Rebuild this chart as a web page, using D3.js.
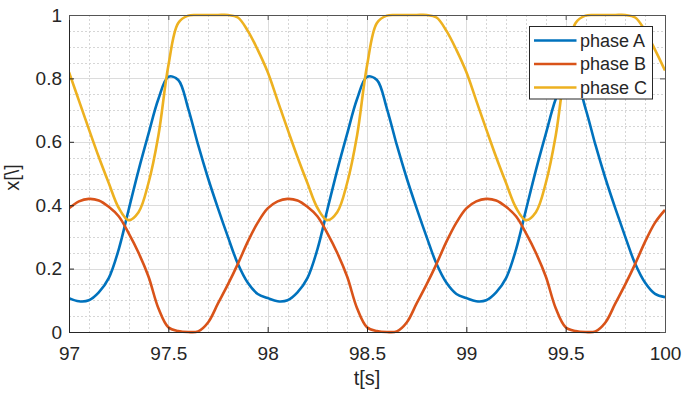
<!DOCTYPE html>
<html>
<head>
<meta charset="utf-8">
<script src="https://cdn.jsdelivr.net/npm/d3@7"></script>
<style>
  body { margin: 0; background: #fff; }
  text { font-family: "Liberation Sans", Arial, sans-serif; fill: #262626; }
</style>
</head>
<body>
<div id="my_dataviz"></div>
<script>
// time samples, every 0.05 s
var timeValues = d3.range(0, 61).map(function (i) { return 97 + i * 0.05; });

// values
var phaseA = [
  0.107, 0.097, 0.100, 0.125, 0.170, 0.260, 0.385, 0.510, 0.625, 0.735,
  0.805, 0.795, 0.705, 0.590, 0.485, 0.390, 0.300, 0.215, 0.155, 0.120,
  0.107, 0.097, 0.100, 0.125, 0.170, 0.260, 0.385, 0.510, 0.625, 0.735,
  0.805, 0.795, 0.705, 0.590, 0.485, 0.390, 0.300, 0.215, 0.155, 0.120,
  0.107, 0.097, 0.100, 0.125, 0.170, 0.260, 0.385, 0.510, 0.625, 0.735,
  0.805, 0.795, 0.705, 0.590, 0.485, 0.390, 0.300, 0.215, 0.155, 0.120,
  0.110
];
var phaseB = [
  0.390, 0.412, 0.420, 0.415, 0.395, 0.365, 0.312, 0.250, 0.175, 0.075,
  0.015, 0.003, 0.000, 0.002, 0.030, 0.090, 0.150, 0.215, 0.285, 0.345,
  0.390, 0.412, 0.420, 0.415, 0.395, 0.365, 0.312, 0.250, 0.175, 0.075,
  0.015, 0.003, 0.000, 0.002, 0.030, 0.090, 0.150, 0.215, 0.285, 0.345,
  0.390, 0.412, 0.420, 0.415, 0.395, 0.365, 0.312, 0.250, 0.175, 0.075,
  0.015, 0.003, 0.000, 0.002, 0.030, 0.090, 0.150, 0.215, 0.285, 0.345,
  0.385
];
var phaseC = [
  0.820, 0.730, 0.640, 0.552, 0.470, 0.392, 0.353, 0.378, 0.470, 0.620,
  0.840, 0.975, 0.998, 1.000, 1.000, 1.000, 1.000, 0.992, 0.950, 0.890,
  0.820, 0.730, 0.640, 0.552, 0.470, 0.392, 0.353, 0.378, 0.470, 0.620,
  0.840, 0.975, 0.998, 1.000, 1.000, 1.000, 1.000, 0.992, 0.950, 0.890,
  0.820, 0.730, 0.640, 0.552, 0.470, 0.392, 0.353, 0.378, 0.470, 0.620,
  0.840, 0.975, 0.998, 1.000, 1.000, 1.000, 1.000, 0.992, 0.950, 0.890,
  0.825
];

var seriesNames = ["phase A", "phase B", "phase C"];
var seriesColors = ["#0072BD", "#D95319", "#EDB120"];
var xTicks = [97, 97.5, 98, 98.5, 99, 99.5, 100];
var yTicks = [0, 0.2, 0.4, 0.6, 0.8, 1];

// set the dimensions and margins of the graph
var margin = { top: 15, right: 18, bottom: 61, left: 69 },
  width = 683 - margin.left - margin.right,
  height = 393 - margin.top - margin.bottom;

var svg = d3
  .select("#my_dataviz")
  .append("svg")
  .attr("width", 683)
  .attr("height", 393)
  .append("g")
  .attr("transform", "translate(" + margin.left + "," + margin.top + ")");

var x = d3.scaleLinear().domain([97, 100]).range([0, width]);
var y = d3.scaleLinear().domain([0, 1]).range([height, 0]);

// minor grid (dotted)
svg
  .selectAll(".minor-x")
  .data(d3.range(97.1, 100, 0.1).filter(function (d) { return Math.abs(d * 2 - Math.round(d * 2)) > 0.01; }))
  .enter()
  .append("line")
  .attr("x1", function (d) { return Math.round(x(d)) + 0.5; })
  .attr("x2", function (d) { return Math.round(x(d)) + 0.5; })
  .attr("y1", 0)
  .attr("y2", height)
  .attr("stroke", "#d6d6d6")
  .attr("stroke-dasharray", "2,2");

svg
  .selectAll(".minor-y")
  .data(d3.range(0.05, 1, 0.05).filter(function (d) { return Math.abs(d * 5 - Math.round(d * 5)) > 0.01; }))
  .enter()
  .append("line")
  .attr("y1", function (d) { return Math.round(y(d)) + 0.5; })
  .attr("y2", function (d) { return Math.round(y(d)) + 0.5; })
  .attr("x1", 0)
  .attr("x2", width)
  .attr("stroke", "#d6d6d6")
  .attr("stroke-dasharray", "2,2");

// major grid
svg
  .selectAll(".major-x")
  .data(xTicks.slice(1, -1))
  .enter()
  .append("line")
  .attr("x1", function (d) { return Math.round(x(d)) + 0.5; })
  .attr("x2", function (d) { return Math.round(x(d)) + 0.5; })
  .attr("y1", 0)
  .attr("y2", height)
  .attr("stroke", "#dcdcdc");

svg
  .selectAll(".major-y")
  .data(yTicks.slice(1, -1))
  .enter()
  .append("line")
  .attr("y1", function (d) { return Math.round(y(d)) + 0.5; })
  .attr("y2", function (d) { return Math.round(y(d)) + 0.5; })
  .attr("x1", 0)
  .attr("x2", width)
  .attr("stroke", "#dcdcdc");

// clip the lines to the plot box
svg
  .append("clipPath")
  .attr("id", "plot-clip")
  .append("rect")
  .attr("x", 0)
  .attr("y", -2)
  .attr("width", width)
  .attr("height", height + 4);

var line = d3
  .line()
  .x(function (d) { return x(d[0]); })
  .y(function (d) { return y(d[1]); })
  .curve(d3.curveCatmullRom.alpha(0.5));

[phaseA, phaseB, phaseC].forEach(function (values, i) {
  svg
    .append("path")
    .datum(timeValues.map(function (t, j) { return [t, values[j]]; }))
    .attr("clip-path", "url(#plot-clip)")
    .attr("fill", "none")
    .attr("stroke", seriesColors[i])
    .attr("stroke-width", 2.6)
    .attr("stroke-linejoin", "round")
    .attr("d", line);
});

// axes (ticks inside)
var xAxis = svg
  .append("g")
  .attr("transform", "translate(0," + height + ")")
  .call(d3.axisBottom(x).tickValues(xTicks).tickFormat(function (d) { return d; }).tickSize(-5).tickPadding(15));

var yAxis = svg
  .append("g")
  .call(d3.axisLeft(y).tickValues(yTicks).tickFormat(function (d) { return d; }).tickSize(-5).tickPadding(7));

[xAxis, yAxis].forEach(function (a) {
  a.select(".domain").attr("stroke", "#262626");
  a.selectAll(".tick line").attr("stroke", "#262626");
  a.selectAll("text").style("font-size", "19px").attr("fill", "#262626");
});

// top and right box edges with ticks
svg
  .append("g")
  .call(d3.axisTop(x).tickValues(xTicks).tickFormat("").tickSize(-5).tickSizeOuter(0))
  .call(function (g) {
    g.select(".domain").attr("stroke", "#555");
    g.selectAll(".tick line").attr("stroke", "#555");
  });

svg
  .append("g")
  .attr("transform", "translate(" + width + ",0)")
  .call(d3.axisRight(y).tickValues(yTicks).tickFormat("").tickSize(-5).tickSizeOuter(0))
  .call(function (g) {
    g.select(".domain").attr("stroke", "#555");
    g.selectAll(".tick line").attr("stroke", "#555");
  });

// x axis label
svg
  .append("text")
  .attr("x", width / 2)
  .attr("y", height + 53)
  .style("text-anchor", "middle")
  .style("font-size", "20px")
  .text("t[s]");

// y axis label
svg
  .append("text")
  .attr("transform", "rotate(-90)")
  .attr("x", -height / 2 - 4)
  .attr("y", -50)
  .style("text-anchor", "middle")
  .style("font-size", "20px")
  .text("x[\\]");

// legend
var legend = svg.append("g").attr("transform", "translate(" + (529.5 - margin.left) + "," + (26.5 - margin.top) + ")");

legend
  .append("rect")
  .attr("width", 123)
  .attr("height", 72.5)
  .attr("fill", "#fff")
  .attr("stroke", "#262626");

var rows = legend
  .selectAll(".legend-row")
  .data(seriesNames)
  .enter()
  .append("g")
  .attr("transform", function (d, i) { return "translate(0," + (14 + i * 23.5) + ")"; });

rows
  .append("line")
  .attr("x1", 4.5)
  .attr("x2", 47)
  .attr("stroke", function (d, i) { return seriesColors[i]; })
  .attr("stroke-width", 2.6);

rows
  .append("text")
  .attr("x", 50.5)
  .attr("dy", "0.35em")
  .style("font-size", "18px")
  .text(function (d) { return d; });
</script>
</body>
</html>
